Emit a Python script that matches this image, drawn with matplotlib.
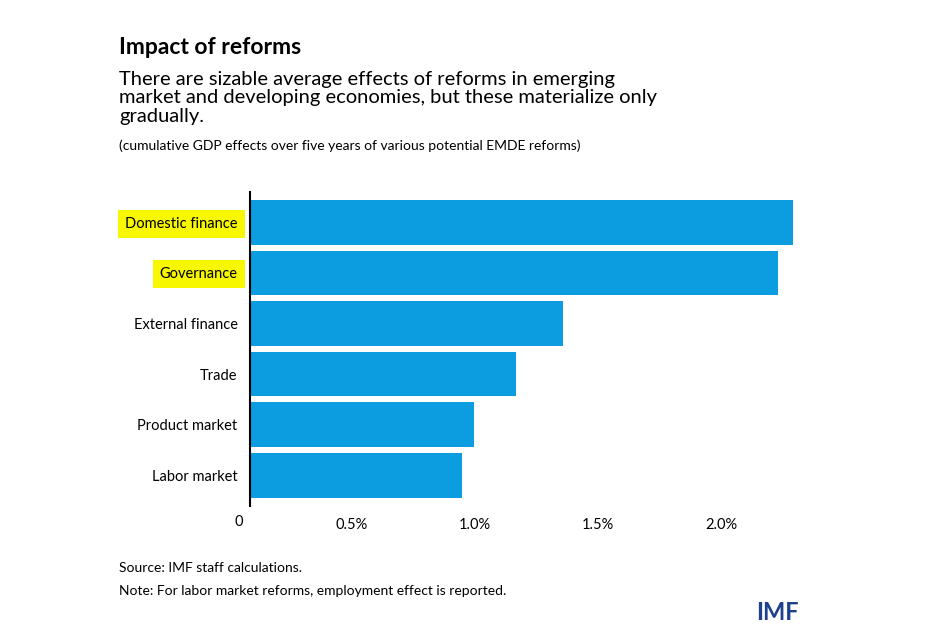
import matplotlib
matplotlib.use("Agg")
import matplotlib.pyplot as plt

categories = ["Domestic finance", "Governance", "External finance", "Trade", "Product market", "Labor market"]
values = [2.29, 2.23, 1.36, 1.17, 1.00, 0.95]
tick_vals = [0.5, 1.0, 1.5, 2.0]
tick_labels = ["0.5%", "1.0%", "1.5%", "2.0%"]
highlight = {"Domestic finance", "Governance"}
x0 = 0.09

plt.rcParams['font.family'] = ['Lato', 'DejaVu Sans']
fig = plt.figure(figsize=(9.33, 6.4), dpi=100)
ax = fig.add_axes([0.268, 0.21, 0.6, 0.49])
y = list(range(len(categories)))
ax.barh(y, [v - x0 for v in values], left=x0, height=0.88, color="#0b9de0", edgecolor="none")
ax.set_yticks(y)
ax.set_yticklabels(categories, fontsize=10.5)
ax.set_xticks(tick_vals)
ax.set_xticklabels(tick_labels, fontsize=10.5)
ax.set_xlim(x0, 2.36)
ax.set_ylim(5.6, -0.6)
for lab in ax.get_yticklabels():
    if lab.get_text() in highlight:
        lab.set_bbox(dict(facecolor="#f7f700", edgecolor="none", pad=5))
for s in ["top", "right", "bottom"]:
    ax.spines[s].set_visible(False)
ax.spines["left"].set_linewidth(1.5)
ax.tick_params(length=0, pad=9)
ax.text(x0 - 0.03, -0.03, "0", transform=ax.get_xaxis_transform(), fontsize=10.5, ha="right", va="top")

fig.text(0.128, 0.925, "Impact of reforms", fontsize=16.5, fontweight="bold", va="center")
fig.text(0.128, 0.847, "There are sizable average effects of reforms in emerging\nmarket and developing economies, but these materialize only\ngradually.",
         fontsize=14.5, va="center", linespacing=1.08)
fig.text(0.128, 0.772, "(cumulative GDP effects over five years of various potential EMDE reforms)", fontsize=10, va="center")
fig.text(0.128, 0.112, "Source: IMF staff calculations.", fontsize=10, va="center")
fig.text(0.128, 0.077, "Note: For labor market reforms, employment effect is reported.", fontsize=10, va="center")
fig.text(0.81, 0.043, "IMF", fontsize=17, fontweight="bold", color="#1f3f8f", va="center")
fig.savefig("out.png", dpi=100)
